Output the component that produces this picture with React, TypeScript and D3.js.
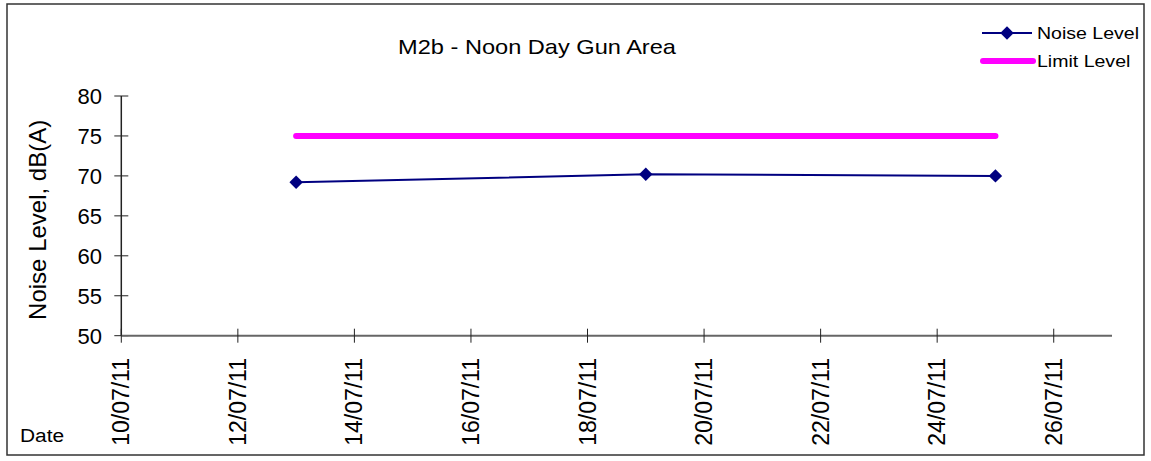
import React, { useEffect, useRef } from 'react';
import * as d3 from 'd3';

const dates = ['2011-07-13', '2011-07-19', '2011-07-25'];
const noiseLevels = [69.2, 70.2, 70.0];
const limitLevels = [75, 75, 75];
const yTicks = [50, 55, 60, 65, 70, 75, 80];
const xTickDates = ['2011-07-10', '2011-07-12', '2011-07-14', '2011-07-16', '2011-07-18', '2011-07-20', '2011-07-22', '2011-07-24', '2011-07-26'];

const width = 1151;
const height = 461;

const App: React.FC = () => {
  const ref = useRef<SVGSVGElement>(null);

  useEffect(() => {
    if (!ref.current) return;
    const svg = d3.select(ref.current);
    svg.selectAll('*').remove();

    const parse = d3.timeParse('%Y-%m-%d');
    const fmt = d3.timeFormat('%d/%m/%y');
    const font = 'Liberation Sans, Arial, sans-serif';

    const x = d3
      .scaleTime()
      .domain([parse('2011-07-10')!, parse('2011-07-27')!])
      .range([121.3, 1112]);
    const y = d3.scaleLinear().domain([50, 80]).range([335.7, 96]);

    // chart border
    svg
      .append('rect')
      .attr('x', 7)
      .attr('y', 4)
      .attr('width', 1137)
      .attr('height', 451)
      .attr('fill', 'white')
      .attr('stroke', '#333')
      .attr('stroke-width', 1.5);

    // the original text looks a bit stretched sideways
    svg
      .append('text')
      .attr('transform', 'translate(537, 54) scale(1.18, 1)')
      .attr('text-anchor', 'middle')
      .style('font-family', font)
      .style('font-size', '20px')
      .text('M2b - Noon Day Gun Area');

    // y axis
    const yAxis = svg.append('g');
    yAxis
      .append('line')
      .attr('x1', x.range()[0])
      .attr('x2', x.range()[0])
      .attr('y1', y(50))
      .attr('y2', y(80))
      .attr('stroke', '#222')
      .attr('stroke-width', 1.5);
    yTicks.forEach((t) => {
      yAxis
        .append('line')
        .attr('x1', x.range()[0] - 7)
        .attr('x2', x.range()[0] + 7)
        .attr('y1', y(t))
        .attr('y2', y(t))
        .attr('stroke', '#222')
        .attr('stroke-width', 1);
      yAxis
        .append('text')
        .attr('x', 102)
        .attr('y', y(t))
        .attr('dy', '0.36em')
        .attr('text-anchor', 'end')
        .style('font-family', font)
        .style('font-size', '22px')
        .text(t);
    });

    svg
      .append('text')
      .attr('transform', `translate(46, ${(y(50) + y(80)) / 2 + 4}) rotate(-90)`)
      .attr('text-anchor', 'middle')
      .style('font-family', font)
      .style('font-size', '24px')
      .text('Noise Level, dB(A)');

    // x axis
    const xAxis = svg.append('g');
    xAxis
      .append('line')
      .attr('x1', x.range()[0])
      .attr('x2', x.range()[1])
      .attr('y1', y(50))
      .attr('y2', y(50))
      .attr('stroke', '#666')
      .attr('stroke-width', 2);
    xTickDates.forEach((ds) => {
      const d = parse(ds)!;
      xAxis
        .append('line')
        .attr('x1', x(d))
        .attr('x2', x(d))
        .attr('y1', y(50) - 7)
        .attr('y2', y(50) + 7)
        .attr('stroke', '#222')
        .attr('stroke-width', 1);
      xAxis
        .append('text')
        .attr('transform', `translate(${x(d) + 8}, 358) rotate(-90)`)
        .attr('text-anchor', 'end')
        .style('font-family', font)
        .style('font-size', '23px')
        .text(fmt(d));
    });

    svg
      .append('text')
      .attr('transform', 'translate(20, 442) scale(1.1, 1)')
      .style('font-family', font)
      .style('font-size', '19px')
      .text('Date');

    const limitData = dates.map((d, i) => ({ date: parse(d)!, value: limitLevels[i] }));
    const noiseData = dates.map((d, i) => ({ date: parse(d)!, value: noiseLevels[i] }));

    const line = d3
      .line<{ date: Date; value: number }>()
      .x((d) => x(d.date))
      .y((d) => y(d.value));

    svg
      .append('path')
      .datum(limitData)
      .attr('d', line)
      .attr('fill', 'none')
      .attr('stroke', '#FF00FF')
      .attr('stroke-width', 6)
      .attr('stroke-linecap', 'round');

    svg
      .append('path')
      .datum(noiseData)
      .attr('d', line)
      .attr('fill', 'none')
      .attr('stroke', '#000080')
      .attr('stroke-width', 2);

    const diamond = d3.symbol().type(d3.symbolDiamond2).size(115);
    svg
      .selectAll('.pt')
      .data(noiseData)
      .enter()
      .append('path')
      .attr('class', 'pt')
      .attr('d', diamond)
      .attr('transform', (d) => `translate(${x(d.date)}, ${y(d.value)})`)
      .attr('fill', '#000080');

    // legend
    const lg = svg.append('g');
    lg.append('line')
      .attr('x1', 982)
      .attr('x2', 1032)
      .attr('y1', 33)
      .attr('y2', 33)
      .attr('stroke', '#000080')
      .attr('stroke-width', 2);
    lg.append('path')
      .attr('d', diamond)
      .attr('transform', 'translate(1007, 33)')
      .attr('fill', '#000080');
    lg.append('text')
      .attr('transform', 'translate(1037, 39) scale(1.15, 1)')
      .style('font-family', font)
      .style('font-size', '17px')
      .text('Noise Level');
    lg.append('line')
      .attr('x1', 983)
      .attr('x2', 1033)
      .attr('y1', 61)
      .attr('y2', 61)
      .attr('stroke', '#FF00FF')
      .attr('stroke-width', 6)
      .attr('stroke-linecap', 'round');
    lg.append('text')
      .attr('transform', 'translate(1037, 67) scale(1.15, 1)')
      .style('font-family', font)
      .style('font-size', '17px')
      .text('Limit Level');
  }, []);

  return (
    <svg
      ref={ref}
      width={width}
      height={height}
      style={{ position: 'absolute', left: 0, top: 0, display: 'block' }}
    ></svg>
  );
};

export default App;
